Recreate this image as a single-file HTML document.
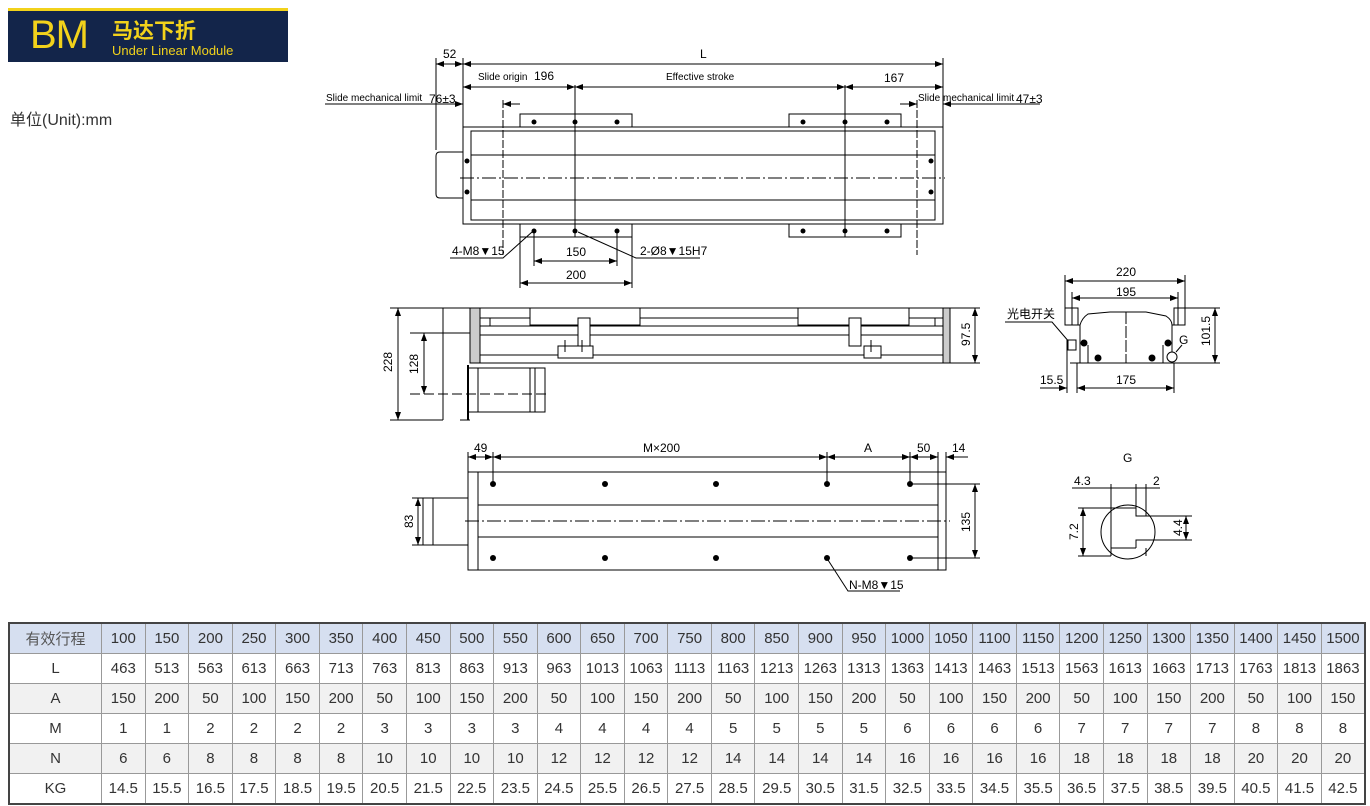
<!DOCTYPE html>
<html><head><meta charset="utf-8"><style>
body{margin:0;background:#fff;width:1370px;height:806px;overflow:hidden;position:relative;font-family:"Liberation Sans","Noto Sans CJK SC",sans-serif}
.hdr{position:absolute;left:8px;top:8px;width:280px;height:54px;background:#13254a;border-top:3px solid #f2d21b;box-sizing:border-box}
.unit{position:absolute;left:10px;top:106px;font-size:16px;color:#333}
table{position:absolute;left:8px;top:622px;border-collapse:collapse;border:2px solid #444;table-layout:fixed;width:1358px}
td{border:1px solid #999;height:29px;padding:0;text-align:center;font-size:15px;color:#333;white-space:nowrap;overflow:hidden}
tr.h td{background:#d6dff0}
tr.g td{background:#f1f1f1}
td.f{width:91px}
svg{position:absolute;left:0;top:0}
</style></head><body>
<div class="hdr">
<div style="position:absolute;left:22px;top:2px;font-size:40px;color:#f2d21b;letter-spacing:-1px">BM</div>
<div style="position:absolute;left:104px;top:4px;font-size:21px;color:#f2d21b;font-family:'Noto Sans CJK SC',sans-serif;font-weight:bold">马达下折</div>
<div style="position:absolute;left:104px;top:32px;font-size:13px;color:#f2d21b">Under Linear Module</div>
</div>
<div class="unit">单位(Unit):mm</div>
<svg width="1370" height="806" viewBox="0 0 1370 806">
<defs><marker id="a" markerWidth="8" markerHeight="6" refX="8" refY="3" orient="auto-start-reverse"><path d="M0,0L8,3L0,6z" fill="#000"/></marker></defs>
<g stroke="#000" stroke-width="1" fill="none" font-family="Liberation Sans Narrow,Liberation Sans,sans-serif">
<rect x="463" y="127" width="480" height="97"/>
<rect x="471" y="131" width="464" height="89"/>
<line x1="471" y1="155" x2="935" y2="155"/><line x1="471" y1="200" x2="935" y2="200"/>
<line x1="460" y1="178" x2="945" y2="178" stroke-dasharray="14,3,2,3"/>
<path d="M463,152H440Q436,152 436,156V194Q436,198 440,198H463"/>
<rect x="520" y="114" width="112" height="13"/><rect x="789" y="114" width="112" height="13"/>
<rect x="520" y="224" width="112" height="13"/><rect x="789" y="224" width="112" height="13"/>
<line x1="575" y1="85" x2="575" y2="237"/><line x1="845" y1="85" x2="845" y2="237"/>
<line x1="503" y1="100" x2="503" y2="255" stroke-dasharray="8,2"/><line x1="917" y1="100" x2="917" y2="255" stroke-dasharray="8,2"/>
<line x1="436" y1="58" x2="436" y2="150"/><line x1="463" y1="58" x2="463" y2="127"/><line x1="943" y1="58" x2="943" y2="127"/>
<line x1="436" y1="64" x2="463" y2="64" marker-start="url(#a)" marker-end="url(#a)"/>
<line x1="463" y1="64" x2="943" y2="64" marker-start="url(#a)" marker-end="url(#a)"/>
<line x1="463" y1="87" x2="575" y2="87" marker-start="url(#a)" marker-end="url(#a)"/>
<line x1="575" y1="87" x2="845" y2="87" marker-start="url(#a)" marker-end="url(#a)"/>
<line x1="845" y1="87" x2="943" y2="87" marker-start="url(#a)" marker-end="url(#a)"/>
<line x1="325" y1="104" x2="463" y2="104" marker-end="url(#a)"/><line x1="520" y1="104" x2="503" y2="104" marker-end="url(#a)"/>
<line x1="900" y1="104" x2="917" y2="104" marker-end="url(#a)"/><line x1="1040" y1="104" x2="943" y2="104" marker-end="url(#a)"/>
<line x1="520" y1="237" x2="520" y2="288"/><line x1="632" y1="237" x2="632" y2="288"/>
<line x1="534" y1="231" x2="534" y2="266"/><line x1="617" y1="231" x2="617" y2="266"/>
<line x1="534" y1="261" x2="617" y2="261" marker-start="url(#a)" marker-end="url(#a)"/>
<line x1="520" y1="283" x2="632" y2="283" marker-start="url(#a)" marker-end="url(#a)"/>
<polyline points="450,258 503,258 532,232"/><polyline points="578,232 636,258 700,258"/>
<rect x="470" y="308" width="480" height="55"/>
<rect x="470" y="308" width="10" height="55" fill="#ccc"/><rect x="943" y="308" width="7" height="55" fill="#ccc"/>
<line x1="480" y1="318" x2="943" y2="318"/><line x1="480" y1="326" x2="943" y2="326"/><line x1="480" y1="335" x2="943" y2="335"/><line x1="480" y1="355" x2="943" y2="355"/>
<rect x="530" y="308" width="110" height="17" fill="#fff"/><rect x="798" y="308" width="111" height="17" fill="#fff"/>
<line x1="490" y1="318" x2="490" y2="326"/><line x1="935" y1="318" x2="935" y2="326"/>
<rect x="578" y="318" width="12" height="28" fill="#fff"/><rect x="849" y="318" width="12" height="28" fill="#fff"/>
<rect x="558" y="346" width="35" height="12" fill="#fff"/><rect x="864" y="346" width="17" height="12" fill="#fff"/>
<line x1="565" y1="340" x2="565" y2="352"/><line x1="582" y1="340" x2="582" y2="352"/><line x1="871" y1="340" x2="871" y2="352"/>
<line x1="443" y1="308" x2="443" y2="420"/><line x1="443" y1="308" x2="470" y2="308"/>
<rect x="468" y="368" width="77" height="44"/><line x1="478" y1="368" x2="478" y2="412"/><line x1="530" y1="368" x2="530" y2="412"/><line x1="535" y1="368" x2="535" y2="412"/>
<line x1="460" y1="420" x2="470" y2="420"/><line x1="468" y1="365" x2="468" y2="420" stroke-width="2"/>
<line x1="410" y1="333" x2="470" y2="333"/><line x1="410" y1="394" x2="550" y2="394" stroke-dasharray="10,4"/>
<line x1="390" y1="308" x2="443" y2="308"/><line x1="390" y1="420" x2="443" y2="420"/>
<line x1="398" y1="308" x2="398" y2="420" marker-start="url(#a)" marker-end="url(#a)"/>
<line x1="424" y1="333" x2="424" y2="394" marker-start="url(#a)" marker-end="url(#a)"/>
<line x1="950" y1="308" x2="980" y2="308"/><line x1="950" y1="363" x2="980" y2="363"/>
<line x1="975" y1="308" x2="975" y2="363" marker-start="url(#a)" marker-end="url(#a)"/>
<rect x="468" y="472" width="478" height="98"/>
<line x1="478" y1="472" x2="478" y2="570"/><line x1="938" y1="472" x2="938" y2="570"/>
<line x1="478" y1="505" x2="938" y2="505"/><line x1="478" y1="537" x2="938" y2="537"/>
<line x1="465" y1="521" x2="950" y2="521" stroke-dasharray="14,3,2,3"/>
<rect x="423" y="498" width="45" height="47"/><line x1="433" y1="498" x2="433" y2="545"/>
<line x1="468" y1="452" x2="468" y2="472"/><line x1="493" y1="452" x2="493" y2="484"/><line x1="827" y1="452" x2="827" y2="484"/><line x1="910" y1="452" x2="910" y2="484"/><line x1="938" y1="452" x2="938" y2="472"/><line x1="946" y1="452" x2="946" y2="472"/>
<line x1="468" y1="457" x2="493" y2="457" marker-start="url(#a)" marker-end="url(#a)"/>
<line x1="493" y1="457" x2="827" y2="457" marker-start="url(#a)" marker-end="url(#a)"/>
<line x1="827" y1="457" x2="910" y2="457" marker-start="url(#a)" marker-end="url(#a)"/>
<line x1="910" y1="457" x2="938" y2="457" marker-start="url(#a)" marker-end="url(#a)"/>
<line x1="968" y1="457" x2="946" y2="457" marker-end="url(#a)"/>
<line x1="910" y1="484" x2="980" y2="484"/><line x1="910" y1="558" x2="980" y2="558"/>
<line x1="975" y1="484" x2="975" y2="558" marker-start="url(#a)" marker-end="url(#a)"/>
<line x1="412" y1="498" x2="423" y2="498"/><line x1="412" y1="545" x2="423" y2="545"/>
<line x1="418" y1="498" x2="418" y2="545" marker-start="url(#a)" marker-end="url(#a)"/>
<polyline points="828,560 848,591 900,591"/>
<path d="M1065,308H1078V325H1080V363H1172V325H1174V308H1185V325H1172"/>
<path d="M1065,308V325H1078 M1080,325Q1082,318 1088,314L1110,312H1146L1166,316Q1172,320 1172,325"/>
<line x1="1126" y1="312" x2="1126" y2="363" stroke-dasharray="12,2"/>
<line x1="1070" y1="363" x2="1220" y2="363"/><line x1="1185" y1="308" x2="1220" y2="308"/>
<line x1="1215" y1="308" x2="1215" y2="363" marker-start="url(#a)" marker-end="url(#a)"/>
<line x1="1065" y1="275" x2="1065" y2="308"/><line x1="1185" y1="275" x2="1185" y2="308"/>
<line x1="1065" y1="281" x2="1185" y2="281" marker-start="url(#a)" marker-end="url(#a)"/>
<line x1="1072" y1="292" x2="1072" y2="325"/><line x1="1178" y1="292" x2="1178" y2="325"/>
<line x1="1072" y1="298" x2="1178" y2="298" marker-start="url(#a)" marker-end="url(#a)"/>
<line x1="1067" y1="340" x2="1067" y2="393"/><line x1="1077" y1="363" x2="1077" y2="393"/><line x1="1174" y1="363" x2="1174" y2="393"/>
<line x1="1077" y1="388" x2="1174" y2="388" marker-start="url(#a)" marker-end="url(#a)"/>
<line x1="1040" y1="388" x2="1067" y2="388" marker-end="url(#a)"/>
<line x1="1088" y1="345" x2="1088" y2="363"/><line x1="1163" y1="345" x2="1163" y2="363"/>
<circle cx="1172" cy="357" r="5" fill="#fff"/><line x1="1176" y1="352" x2="1182" y2="345"/>
<polyline points="1005,322 1052,322 1070,343"/>
<rect x="1068" y="340" width="8" height="10" fill="#fff"/>
<circle cx="1128" cy="532" r="27"/>
<line x1="1072" y1="488" x2="1160" y2="488"/>
<path d="M1111,484V556 M1136,484V516H1157 M1146,484V516 M1136,548V540H1157 M1146,548V556 M1111,508H1136 M1111,548H1136"/>
<line x1="1078" y1="508" x2="1111" y2="508"/><line x1="1078" y1="556" x2="1111" y2="556"/>
<line x1="1083" y1="508" x2="1083" y2="556" marker-start="url(#a)" marker-end="url(#a)"/>
<line x1="1157" y1="516" x2="1192" y2="516"/><line x1="1157" y1="540" x2="1192" y2="540"/>
<line x1="1186" y1="516" x2="1186" y2="540" marker-start="url(#a)" marker-end="url(#a)"/>
</g>
<g fill="#000">
<circle cx="534" cy="122" r="2.5"/><circle cx="575" cy="122" r="2.5"/><circle cx="617" cy="122" r="2.5"/>
<circle cx="803" cy="122" r="2.5"/><circle cx="845" cy="122" r="2.5"/><circle cx="887" cy="122" r="2.5"/>
<circle cx="534" cy="231" r="2.5"/><circle cx="575" cy="231" r="2.5"/><circle cx="617" cy="231" r="2.5"/>
<circle cx="803" cy="231" r="2.5"/><circle cx="845" cy="231" r="2.5"/><circle cx="887" cy="231" r="2.5"/>
<circle cx="467" cy="161" r="2.5"/><circle cx="467" cy="192" r="2.5"/><circle cx="931" cy="161" r="2.5"/><circle cx="931" cy="192" r="2.5"/>
<circle cx="493" cy="484" r="3"/><circle cx="605" cy="484" r="3"/><circle cx="716" cy="484" r="3"/><circle cx="827" cy="484" r="3"/><circle cx="910" cy="484" r="3"/>
<circle cx="493" cy="558" r="3"/><circle cx="605" cy="558" r="3"/><circle cx="716" cy="558" r="3"/><circle cx="827" cy="558" r="3"/><circle cx="910" cy="558" r="3"/>
<circle cx="1084" cy="343" r="3.5"/><circle cx="1098" cy="358" r="3.5"/><circle cx="1152" cy="358" r="3.5"/><circle cx="1168" cy="343" r="3.5"/>
</g>
<g font-family="Liberation Sans Narrow,Liberation Sans,sans-serif" font-size="12" fill="#000">
<text x="443" y="58">52</text><text x="700" y="58">L</text>
<text x="478" y="80" font-size="10">Slide origin</text><text x="534" y="80">196</text>
<text x="666" y="80" font-size="10">Effective stroke</text><text x="884" y="82">167</text>
<text x="326" y="101" font-size="10">Slide mechanical limit</text><text x="429" y="103">76±3</text>
<text x="918" y="101" font-size="10">Slide mechanical limit</text><text x="1016" y="103">47±3</text>
<text x="452" y="255">4-M8▼15</text><text x="640" y="255">2-Ø8▼15H7</text>
<text x="566" y="256">150</text><text x="566" y="279">200</text>
<text x="392" y="372" transform="rotate(-90 392 372)">228</text>
<text x="418" y="374" transform="rotate(-90 418 374)">128</text>
<text x="970" y="346" transform="rotate(-90 970 346)">97.5</text>
<text x="474" y="452">49</text><text x="643" y="452">M×200</text><text x="864" y="452">A</text><text x="917" y="452">50</text><text x="952" y="452">14</text>
<text x="970" y="532" transform="rotate(-90 970 532)">135</text>
<text x="413" y="528" transform="rotate(-90 413 528)">83</text>
<text x="849" y="589">N-M8▼15</text>
<text x="1116" y="276">220</text><text x="1116" y="296">195</text>
<text x="1210" y="346" transform="rotate(-90 1210 346)">101.5</text>
<text x="1116" y="384">175</text><text x="1040" y="384">15.5</text>
<text x="1179" y="344">G</text>
<text x="1007" y="318" font-family="Noto Sans CJK SC,sans-serif">光电开关</text>
<text x="1123" y="462">G</text><text x="1074" y="485">4.3</text><text x="1153" y="485">2</text>
<text x="1078" y="540" transform="rotate(-90 1078 540)">7.2</text>
<text x="1182" y="536" transform="rotate(-90 1182 536)">4.4</text>
</g>
</svg>
<table>
<tr class="h"><td class="f" style="color:#555">有效行程</td><td>100</td><td>150</td><td>200</td><td>250</td><td>300</td><td>350</td><td>400</td><td>450</td><td>500</td><td>550</td><td>600</td><td>650</td><td>700</td><td>750</td><td>800</td><td>850</td><td>900</td><td>950</td><td>1000</td><td>1050</td><td>1100</td><td>1150</td><td>1200</td><td>1250</td><td>1300</td><td>1350</td><td>1400</td><td>1450</td><td>1500</td></tr>
<tr><td class="f">L</td><td>463</td><td>513</td><td>563</td><td>613</td><td>663</td><td>713</td><td>763</td><td>813</td><td>863</td><td>913</td><td>963</td><td>1013</td><td>1063</td><td>1113</td><td>1163</td><td>1213</td><td>1263</td><td>1313</td><td>1363</td><td>1413</td><td>1463</td><td>1513</td><td>1563</td><td>1613</td><td>1663</td><td>1713</td><td>1763</td><td>1813</td><td>1863</td></tr>
<tr class="g"><td class="f">A</td><td>150</td><td>200</td><td>50</td><td>100</td><td>150</td><td>200</td><td>50</td><td>100</td><td>150</td><td>200</td><td>50</td><td>100</td><td>150</td><td>200</td><td>50</td><td>100</td><td>150</td><td>200</td><td>50</td><td>100</td><td>150</td><td>200</td><td>50</td><td>100</td><td>150</td><td>200</td><td>50</td><td>100</td><td>150</td></tr>
<tr><td class="f">M</td><td>1</td><td>1</td><td>2</td><td>2</td><td>2</td><td>2</td><td>3</td><td>3</td><td>3</td><td>3</td><td>4</td><td>4</td><td>4</td><td>4</td><td>5</td><td>5</td><td>5</td><td>5</td><td>6</td><td>6</td><td>6</td><td>6</td><td>7</td><td>7</td><td>7</td><td>7</td><td>8</td><td>8</td><td>8</td></tr>
<tr class="g"><td class="f">N</td><td>6</td><td>6</td><td>8</td><td>8</td><td>8</td><td>8</td><td>10</td><td>10</td><td>10</td><td>10</td><td>12</td><td>12</td><td>12</td><td>12</td><td>14</td><td>14</td><td>14</td><td>14</td><td>16</td><td>16</td><td>16</td><td>16</td><td>18</td><td>18</td><td>18</td><td>18</td><td>20</td><td>20</td><td>20</td></tr>
<tr><td class="f">KG</td><td>14.5</td><td>15.5</td><td>16.5</td><td>17.5</td><td>18.5</td><td>19.5</td><td>20.5</td><td>21.5</td><td>22.5</td><td>23.5</td><td>24.5</td><td>25.5</td><td>26.5</td><td>27.5</td><td>28.5</td><td>29.5</td><td>30.5</td><td>31.5</td><td>32.5</td><td>33.5</td><td>34.5</td><td>35.5</td><td>36.5</td><td>37.5</td><td>38.5</td><td>39.5</td><td>40.5</td><td>41.5</td><td>42.5</td></tr>
</table>
</body></html>
